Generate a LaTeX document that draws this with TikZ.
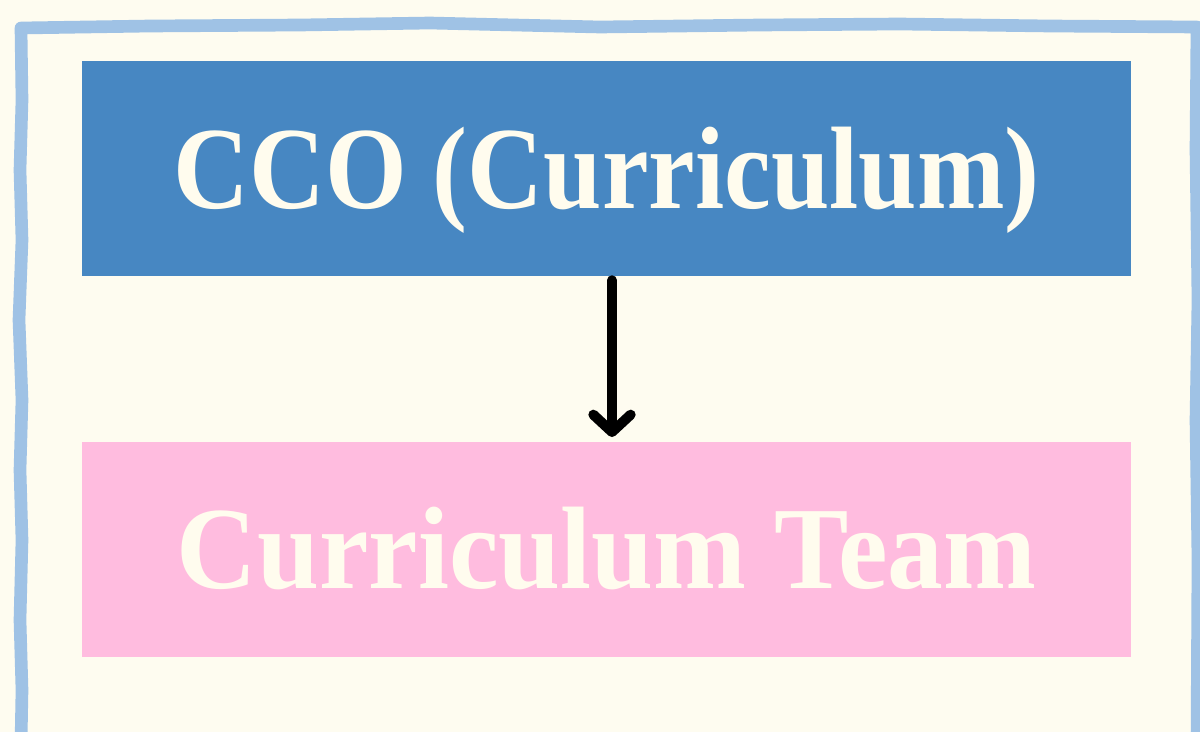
\documentclass[tikz,border=0pt]{standalone}
\usepackage{fontspec}
\setmainfont{Liberation Serif}
\usetikzlibrary{arrows.meta}
\definecolor{bgcream}{HTML}{FEFCF0}
\definecolor{frameblue}{HTML}{9FC2E5}
\definecolor{boxblue}{HTML}{4787C2}
\definecolor{boxpink}{HTML}{FFBCDF}
\definecolor{txtcream}{HTML}{FFFCEE}
\tikzset{
  box/.style={draw=none, minimum width=1049*0.75pt, minimum height=215*0.75pt, inner sep=0pt},
  label/.style={anchor=base, text=txtcream, inner sep=0pt, font=\fontsize{88}{96}\selectfont\bfseries},
  link/.style={line width=7.5pt, line cap=round, draw=black, -{Straight Barb[length=13pt,width=28pt,round]}},
  frame/.style={draw=frameblue, line width=9.5pt, line join=round}
}
\begin{document}
\begin{tikzpicture}[x=0.75pt,y=-0.75pt]
\fill[bgcream] (0,0) rectangle (1200,732);
\useasboundingbox (0,0) rectangle (1200,732);
\begin{scope}
\clip (0,0) rectangle (1200,732);
\draw[frame] (21,745) -- (22,690) -- (20,620) -- (22,540) -- (20,470) -- (22,400) -- (19,320) -- (22,240) -- (20,170) -- (22,100) -- (21,28) -- (150,26) -- (300,25) -- (430,23) -- (600,27) -- (760,25) -- (900,24) -- (1050,26) -- (1197,27) -- (1196,150) -- (1198,300) -- (1196,420) -- (1198,560) -- (1197,745);
\end{scope}
\node[box, fill=boxblue] (cco) at (606.5,168.5) {};
\node[box, fill=boxpink] (team) at (606.5,549.5) {};
\node[label] (ccotext) at (606.5,208) {\scalebox{0.895}[1]{CCO (Curriculum)}};
\node[label] (teamtext) at (606.5,588) {\scalebox{0.95}[1]{Curriculum Team}};
\coordinate (a1) at (612,281);
\coordinate (a2) at (612,437);
\draw[link] (a1 |- cco.south) ++(0,-4*0.75pt) -- (a2);
\end{tikzpicture}
\end{document}
